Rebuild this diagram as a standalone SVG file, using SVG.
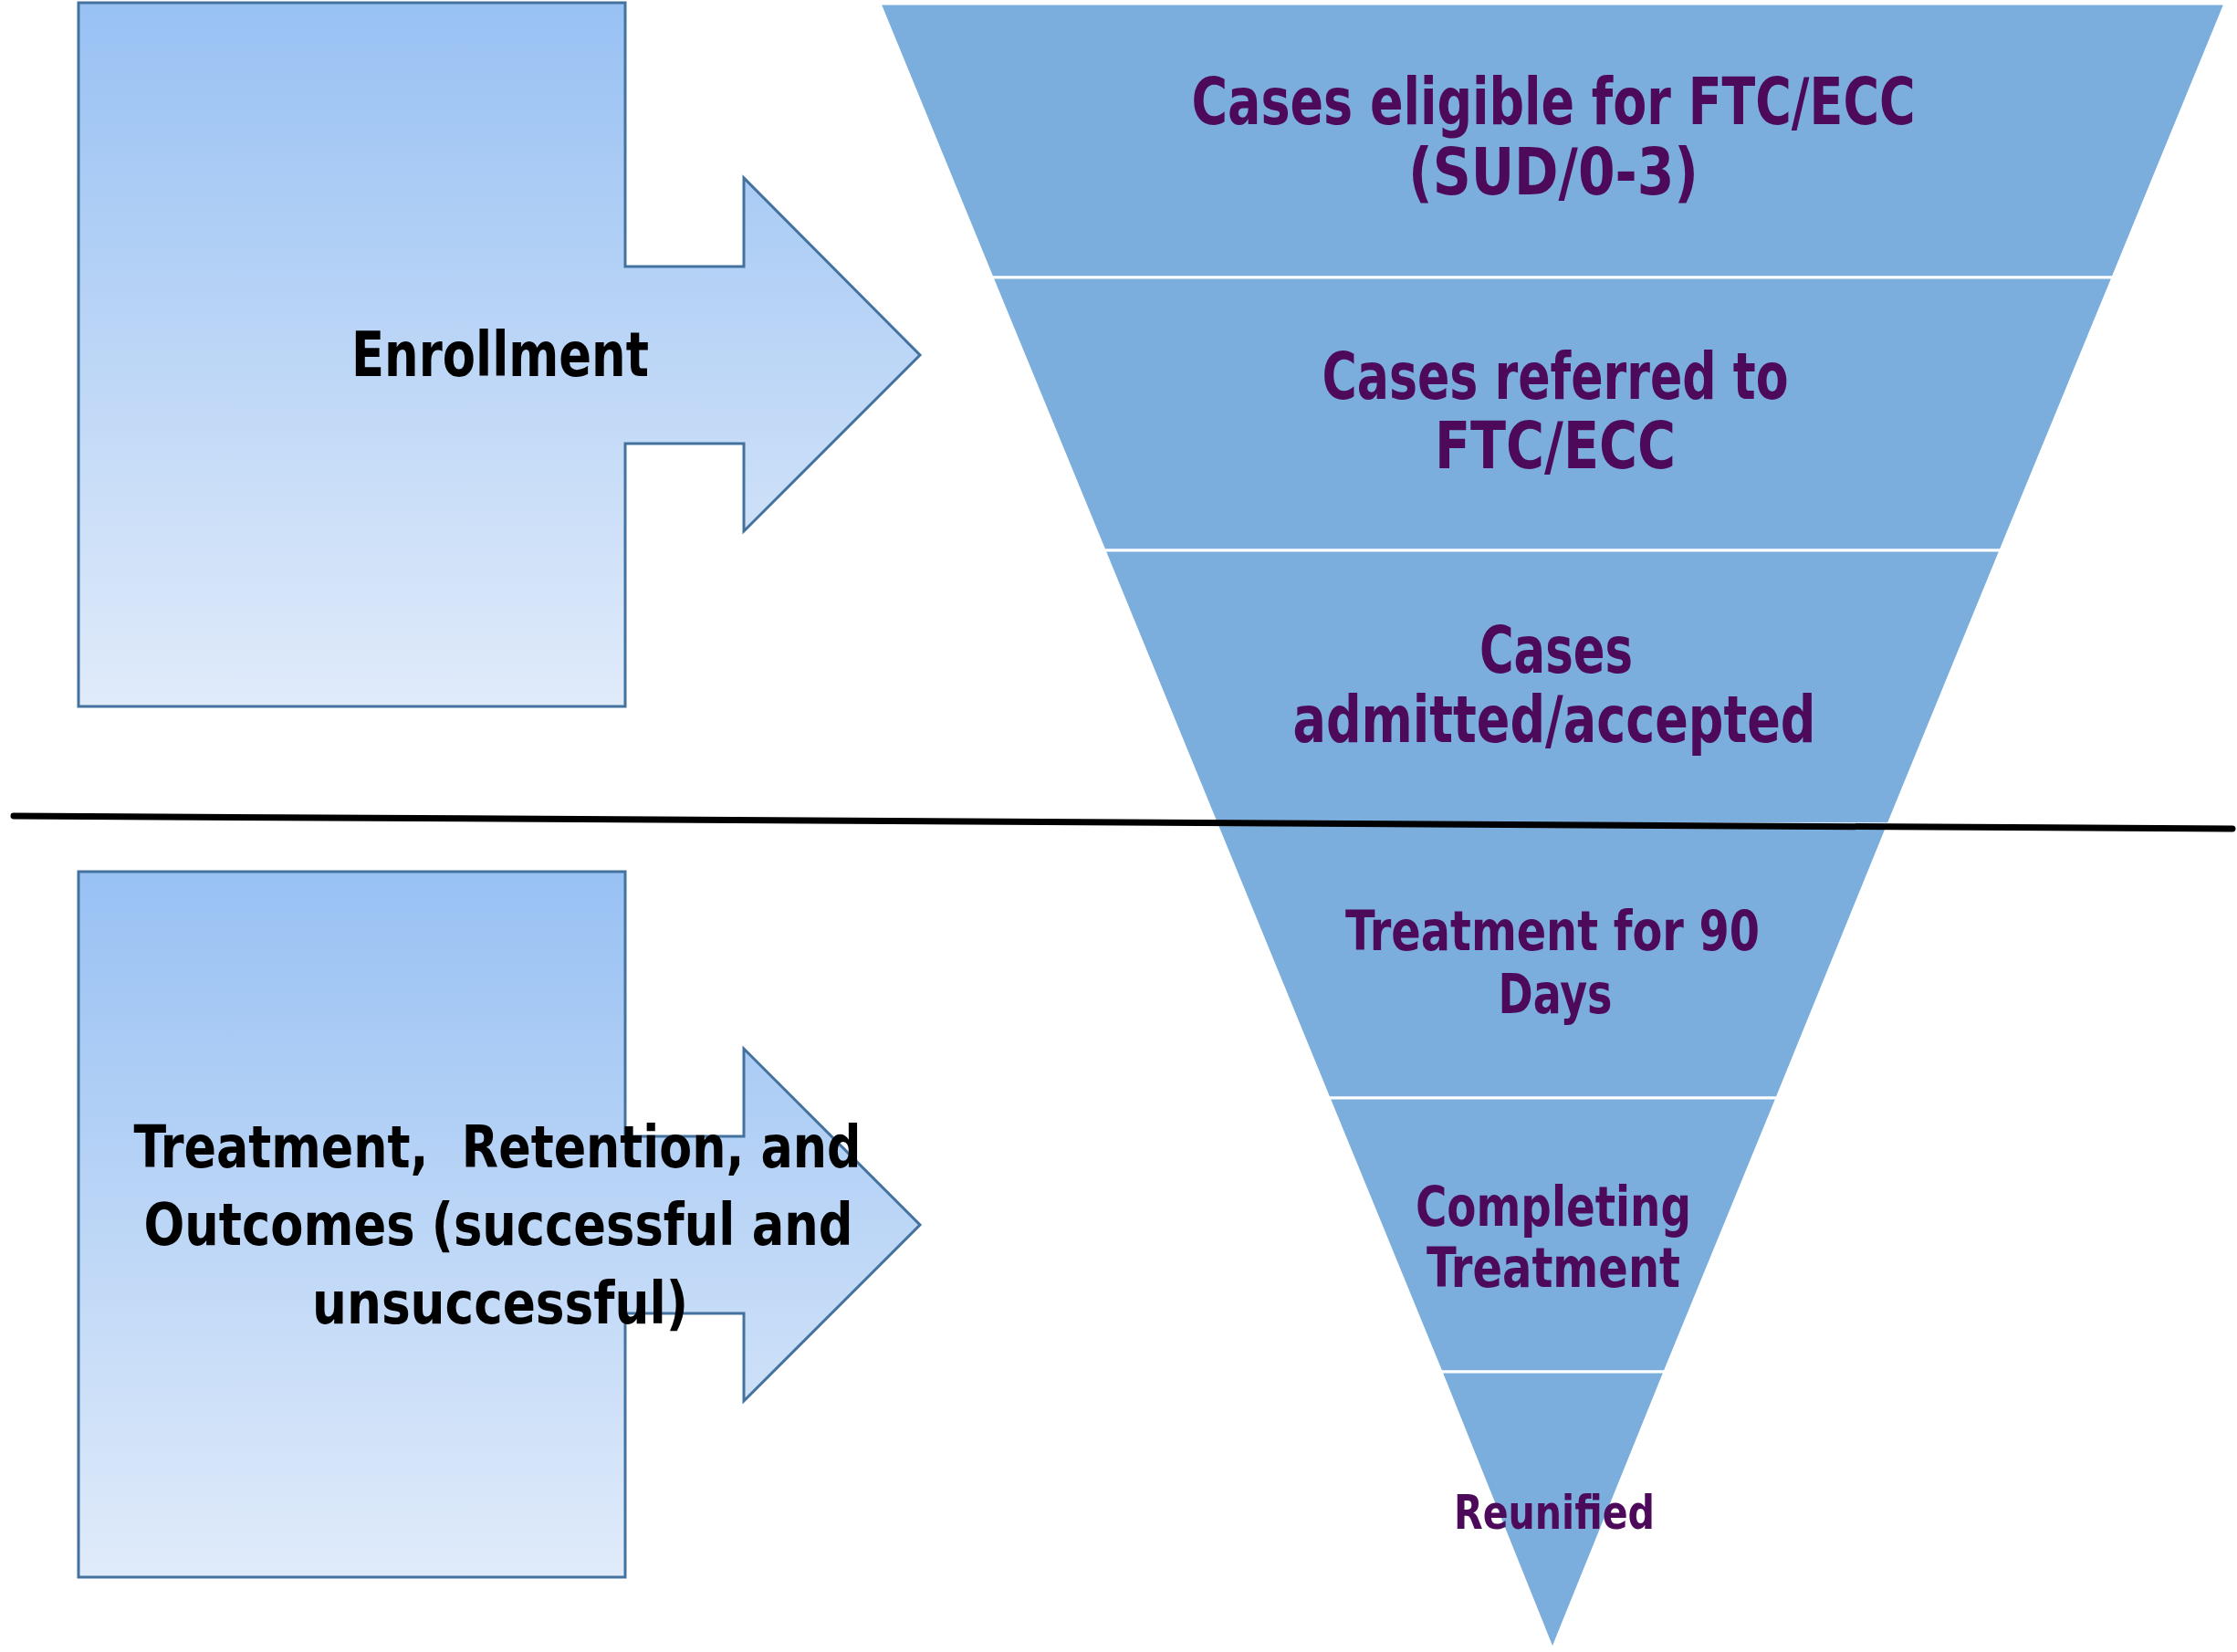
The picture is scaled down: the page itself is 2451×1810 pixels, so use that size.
<svg xmlns="http://www.w3.org/2000/svg" width="2451" height="1810" viewBox="0 0 2451 1810">
  <defs>
    <linearGradient id="calloutGrad" x1="0" y1="0" x2="0" y2="1">
      <stop offset="0" stop-color="#98C1F3"/>
      <stop offset="1" stop-color="#E0EBFA"/>
    </linearGradient>
    <style>
      .callout { fill: url(#calloutGrad); stroke: #44729F; stroke-width: 3; stroke-linejoin: miter; }
      .seg { fill: #7BAEDC; stroke: #FFFFFF; stroke-width: 3; }
      .lbl { font-family: "Liberation Sans Narrow", "DejaVu Sans Condensed", "Liberation Sans", sans-serif; font-weight: bold; text-anchor: middle; }
      .black { fill: #000000; }
      .purple { fill: #4D0A5B; }
      .divider { stroke: #000000; stroke-width: 7; stroke-linecap: round; fill: none; }
    </style>
  </defs>
  <rect x="0" y="0" width="2451" height="1810" fill="#FFFFFF"/>

  <g id="enrollment">
    <path class="callout" d="M86,3 H685 V292 H815 V195 L1008,389 L815,582 V486 H685 V774 H86 Z"/>
    <text class="lbl black" x="548" y="412" font-size="67" textLength="326" lengthAdjust="spacingAndGlyphs">Enrollment</text>
  </g>

  <g id="treatment-outcomes">
    <path class="callout" d="M86,955 H685 V1245 H815 V1149 L1008,1342 L815,1535 V1439 H685 V1728 H86 Z"/>
    <text class="lbl black" x="545" y="1279" font-size="64" xml:space="preserve" textLength="797" lengthAdjust="spacingAndGlyphs">Treatment,  Retention, and</text>
    <text class="lbl black" x="546" y="1364" font-size="64" textLength="777" lengthAdjust="spacingAndGlyphs">Outcomes (successful and</text>
    <text class="lbl black" x="548" y="1450" font-size="64" textLength="412" lengthAdjust="spacingAndGlyphs">unsuccessful)</text>
  </g>

  <g id="funnel-eligible">
    <polygon class="seg" points="964,4 2438,4 2315,304 1087,304"/>
    <text class="lbl purple" x="1702" y="136" font-size="72" textLength="793" lengthAdjust="spacingAndGlyphs">Cases eligible for FTC/ECC</text>
    <text class="lbl purple" x="1702" y="213" font-size="72" textLength="318" lengthAdjust="spacingAndGlyphs">(SUD/0-3)</text>
  </g>

  <g id="funnel-referred">
    <polygon class="seg" points="1087,304 2315,304 2192,603 1210,603"/>
    <text class="lbl purple" x="1704" y="437" font-size="72" textLength="511" lengthAdjust="spacingAndGlyphs">Cases referred to</text>
    <text class="lbl purple" x="1704" y="513" font-size="72" textLength="264" lengthAdjust="spacingAndGlyphs">FTC/ECC</text>
  </g>

  <g id="funnel-admitted">
    <polygon class="seg" points="1210,603 2192,603 2069,903 1333,903"/>
    <text class="lbl purple" x="1705" y="737" font-size="72" textLength="168" lengthAdjust="spacingAndGlyphs">Cases</text>
    <text class="lbl purple" x="1703" y="813" font-size="72" textLength="573" lengthAdjust="spacingAndGlyphs">admitted/accepted</text>
  </g>

  <g id="funnel-treatment90">
    <polygon class="seg" points="1333,903 2069,903 1947,1203 1456,1203"/>
    <text class="lbl purple" x="1701" y="1041" font-size="60" textLength="454" lengthAdjust="spacingAndGlyphs">Treatment for 90</text>
    <text class="lbl purple" x="1704" y="1110" font-size="60" textLength="125" lengthAdjust="spacingAndGlyphs">Days</text>
  </g>

  <g id="funnel-completing">
    <polygon class="seg" points="1456,1203 1947,1203 1824,1503 1579,1503"/>
    <text class="lbl purple" x="1702" y="1343" font-size="60" textLength="302" lengthAdjust="spacingAndGlyphs">Completing</text>
    <text class="lbl purple" x="1702" y="1410" font-size="60" textLength="278" lengthAdjust="spacingAndGlyphs">Treatment</text>
  </g>

  <g id="funnel-reunified">
    <polygon class="seg" points="1579,1503 1824,1503 1701,1807" stroke-linejoin="round"/>
    <text class="lbl purple" x="1703" y="1675" font-size="51" textLength="220" lengthAdjust="spacingAndGlyphs">Reunified</text>
  </g>

  <g id="connectors">
    <line class="divider" x1="15" y1="894" x2="2446" y2="908"/>
  </g>
</svg>
